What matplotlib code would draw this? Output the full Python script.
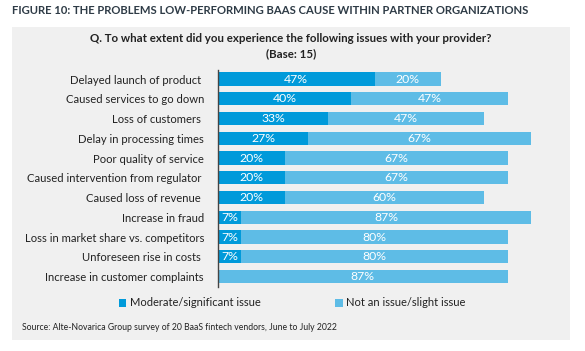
import matplotlib
matplotlib.use('Agg')
import matplotlib.pyplot as plt
from matplotlib.patches import Rectangle

plt.rcParams['font.family'] = ['Lato', 'DejaVu Sans']

issues = ['Delayed launch of product ', 'Caused services to go down', 'Loss of customers ',
          'Delay in processing times', 'Poor quality of service', 'Caused intervention from regulator ',
          'Caused loss of revenue ', 'Increase in fraud', 'Loss in market share vs. competitors',
          'Unforeseen rise in costs ', 'Increase in customer complaints']
moderate = [47, 40, 33, 27, 20, 20, 20, 7, 7, 7, 0]
slight = [20, 47, 47, 67, 67, 67, 60, 87, 80, 80, 87]

dark_blue = '#009ADA'
light_blue = '#5EBCE6'
panel_gray = '#F0F0F0'
text_col = '#222222'

fig = plt.figure(figsize=(5.85, 3.51), dpi=100)
fig.patches.append(Rectangle((12/585, 1-340/351), 558/585, 313/351, transform=fig.transFigure,
                             facecolor=panel_gray, edgecolor='none', zorder=-1))

fig.text(12/585, 1-10/351, 'FIGURE 10: THE PROBLEMS LOW-PERFORMING BAAS CAUSE WITHIN PARTNER ORGANIZATIONS',
         fontsize=8.1, fontweight='bold', color='#2E3B46', va='center', ha='left')
fig.text(291/585, 1-39/351, 'Q. To what extent did you experience the following issues with your provider?',
         fontsize=8.3, fontweight='bold', color=text_col, va='center', ha='center')
fig.text(291/585, 1-54/351, '(Base: 15)', fontsize=8.3, fontweight='bold', color=text_col,
         va='center', ha='center')
fig.text(22/585, 1-327/351, 'Source: Alte-Novarica Group survey of 20 BaaS fintech vendors, June to July 2022',
         fontsize=6.2, color=text_col, va='center', ha='left')

ax = fig.add_axes([218/585, 1-287/351, 333/585, 217/351])
ax.set_zorder(1)
ax.set_facecolor('none')
y = list(range(len(issues)))
b1 = ax.barh(y, moderate, height=0.68, color=dark_blue, label='Moderate/significant issue')
b2 = ax.barh(y, slight, left=moderate, height=0.68, color=light_blue, label='Not an issue/slight issue')
ax.bar_label(b1, labels=[f'{v}%' if v > 0 else '' for v in moderate], label_type='center',
             color='white', fontsize=8.8)
ax.bar_label(b2, labels=[f'{v}%' for v in slight], label_type='center', color='white', fontsize=8.8)

ax.set_xlim(0, 100)
ax.set_ylim(10.53, -0.456)
ax.set_yticks(y)
ax.set_yticklabels(issues, fontsize=8.1, color=text_col)
ax.tick_params(axis='y', length=0, pad=10)
ax.set_xticks([])
for s in ['top', 'right', 'bottom']:
    ax.spines[s].set_visible(False)
ax.spines['left'].set_color('#444444')
ax.spines['left'].set_linewidth(1)

fig.legend(handles=[b1, b2], loc='center', bbox_to_anchor=(292/585, 1-303/351), ncol=2,
           frameon=False, fontsize=8, handlelength=0.7, handleheight=0.7, handletextpad=0.3,
           columnspacing=6.7, labelcolor=text_col)

fig.savefig('out.png', dpi=100)
